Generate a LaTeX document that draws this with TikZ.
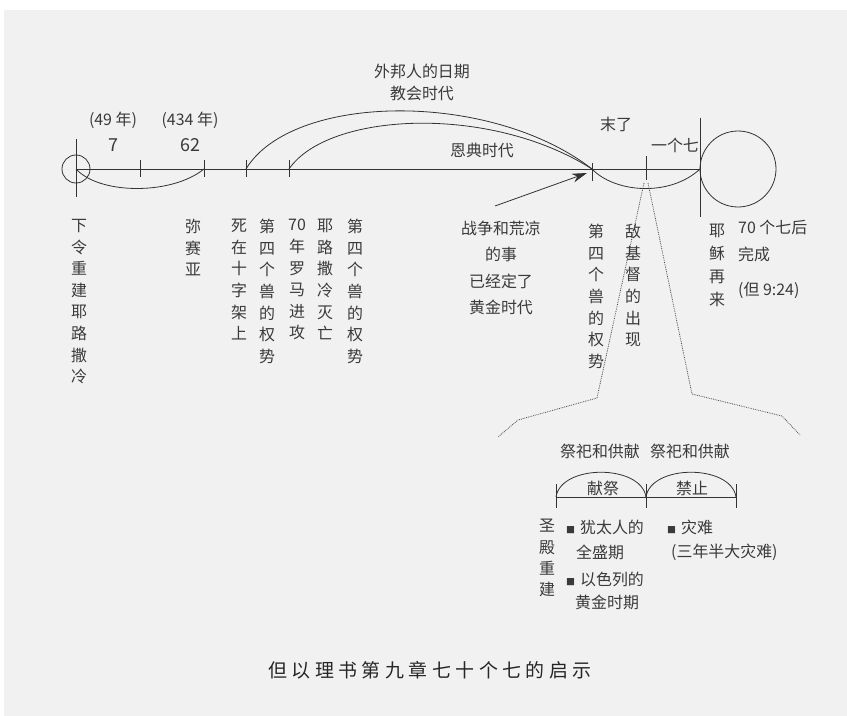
\documentclass[tikz,border=0pt]{standalone}
\usepackage{fontspec}
\setmainfont{Noto Sans CJK SC}
\usetikzlibrary{arrows.meta}
\definecolor{panel}{HTML}{F0F1F0}
\definecolor{ink}{HTML}{3A3A3A}
\definecolor{linec}{HTML}{333333}
\newcommand{\bul}{{\fontsize{9}{9}\selectfont ■}}
\newcommand{\tsp}{\hspace{4.5bp}}
\begin{document}
\begin{tikzpicture}[x=1bp,y=-1bp,
  lbl/.style={text=ink,font=\fontsize{16}{21.7}\selectfont,inner sep=0pt},
  vt/.style={lbl,align=center,anchor=north},
  ln/.style={draw=linec,line width=0.8bp},
  dots/.style={draw=black!70,densely dotted,line width=0.8bp}]
\useasboundingbox (0,0) rectangle (847,716);
\fill[white] (0,0) rectangle (847,716);
\fill[panel] (4,10) rectangle (847,716);

% timeline points
\coordinate (t0) at (76,169);
\coordinate (t1) at (140,169);
\coordinate (t2) at (204,169);
\coordinate (t3) at (246,169);
\coordinate (t4) at (289,169);
\coordinate (t5) at (592,169);
\coordinate (t6) at (646,169);
\coordinate (t7) at (700,169);

\node[circle,draw=linec,line width=0.8bp,minimum size=28bp,inner sep=0pt] (c0) at (t0) {};
\node[circle,draw=linec,line width=0.8bp,minimum size=76bp,inner sep=0pt] (c1) at (738,169) {};

\draw[ln] (t0) -- (t7);
\draw[ln] (t0) ++(0,-30) -- ++(0,58);
\foreach \t in {t1,t2,t3,t4} \draw[ln] (\t) ++(0,-9) -- ++(0,17);
\draw[ln] (t5) ++(0,-6) -- ++(0,18);
\draw[ln] (t6) ++(0,-13) -- ++(0,24);
\draw[ln] (t7) ++(0,-51) -- ++(0,99);

% curves
\draw[ln] (t0) .. controls (100,195) and (172,195) .. (t2);
\draw[ln] (t3) .. controls (292,93) and (490,90) .. (t5);
\draw[ln] (t4) .. controls (328,112) and (490,104) .. (t5);
\draw[ln] (t5) .. controls (615,193) and (670,197) .. (t7);

% arrow
\coordinate (aS) at (495,206);
\coordinate (aE) at (587,173);
\draw[ln,-{Stealth[length=15bp,width=9bp]}] (aS) -- (aE);

% dotted zoom lines
\coordinate (d0) at (644,183);
\coordinate (d1) at (648,183);
\draw[dots] (d0) -- (597,398) -- (518,420) -- (498,437);
\draw[dots] (d1) -- (692,394) -- (782,416) -- (800,435);

% top labels
\node[lbl] (y49) at (113,120) {(49 年)};
\node[lbl,font=\fontsize{18}{20}\selectfont] (n7) at (113,145) {7};
\node[lbl] (y434) at (190,120) {(434 年)};
\node[lbl,font=\fontsize{18}{20}\selectfont] (n62) at (190,145) {62};
\node[lbl] (h1) at (422,71) {外邦人的日期};
\node[lbl] (h2) at (422,93) {教会时代};
\node[lbl] (h3) at (482,150) {恩典时代};
\node[lbl] (h4) at (616,124) {末了};
\node[lbl] (h5) at (675,145) {一个七};

% vertical labels
\node[vt] (v1) at (79,219) {下\\令\\重\\建\\耶\\路\\撒\\冷};
\node[vt] (v2) at (193,219) {弥\\赛\\亚};
\node[vt] (v3) at (239,219) {死\\在\\十\\字\\架\\上};
\node[vt] (v4) at (267,219) {第\\四\\个\\兽\\的\\权\\势};
\node[vt] (v5) at (297,219) {70\\年\\罗\\马\\进\\攻};
\node[vt] (v6) at (325,219) {耶\\路\\撒\\冷\\灭\\亡};
\node[vt] (v7) at (355,219) {第\\四\\个\\兽\\的\\权\\势};
\node[lbl,align=center,anchor=north,font=\fontsize{16}{26.3}\selectfont] (w1) at (501,221) {战争和荒凉\\的事\\已经定了\\黄金时代};
\node[vt] (v8) at (596,224) {第\\四\\个\\兽\\的\\权\\势};
\node[vt] (v9) at (633,224) {敌\\基\\督\\的\\出\\现};
\node[vt,font=\fontsize{16}{23}\selectfont] (v10) at (717,224) {耶\\稣\\再\\来};
\node[lbl,anchor=north west,align=left,font=\fontsize{16}{27}\selectfont] (r1) at (738,220) {70 个七后\\完成\\[8bp](但 9:24)};

% inset
\node[lbl] (s1) at (600,451) {祭祀和供献};
\node[lbl] (s2) at (690,451) {祭祀和供献};
\coordinate (i0) at (556,497);
\coordinate (i1) at (646,497);
\coordinate (i2) at (736,497);
\draw[ln] (i0) -- (i2);
\foreach \t in {i0,i1,i2} \draw[ln] (\t) ++(0,-13) -- ++(0,24);
\draw[ln] (i0) .. controls (561,464) and (641,464) .. (i1);
\draw[ln] (i1) .. controls (651,464) and (731,464) .. (i2);
\node[lbl] (k1) at (603,488) {献祭};
\node[lbl] (k2) at (692,488) {禁止};

\node[vt,font=\fontsize{16}{21.5}\selectfont] (v11) at (547,519) {圣\\殿\\重\\建};
\node[lbl,anchor=west] (b1) at (566,527) {\bul\hspace{5bp}犹太人的};
\node[lbl,anchor=west] (b1x) at (576,552) {全盛期};
\node[lbl,anchor=west] (b2) at (566,579) {\bul\hspace{5bp}以色列的};
\node[lbl,anchor=west] (b2x) at (575,602) {黄金时期};
\node[lbl,anchor=west] (b3) at (667,527) {\bul\hspace{5bp}灾难};
\node[lbl,anchor=west] (b3x) at (671,552) {(三年半大灾难)};

% title
\node[lbl,text=black!85,font=\fontsize{19}{22}\selectfont] (title) at (430,670) {但\tsp 以\tsp 理\tsp 书\tsp 第\tsp 九\tsp 章\tsp 七\tsp 十\tsp 个\tsp 七\tsp 的\tsp 启\tsp 示};
\end{tikzpicture}
\end{document}
